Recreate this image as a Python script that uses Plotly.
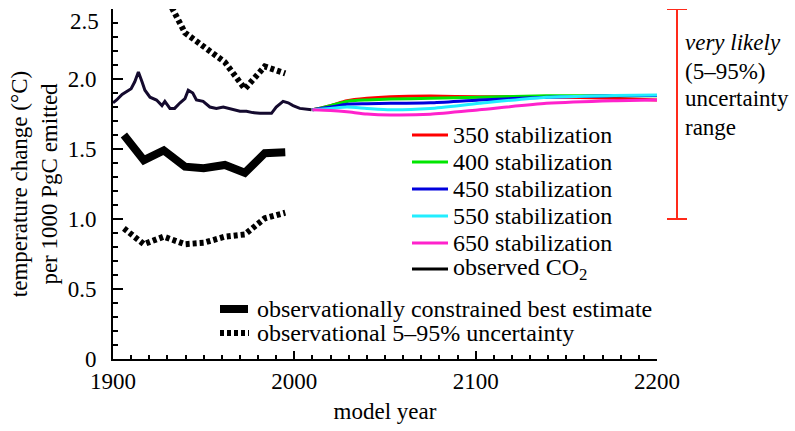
import plotly.graph_objects as go

# ---------------- data ----------------
obs_years = [1900, 1902, 1905, 1907.5, 1910, 1912, 1914, 1916, 1917.6, 1920.4, 1924, 1927, 1928.6,
             1931.4, 1934, 1937, 1939.7, 1941.5, 1944, 1946, 1949.7, 1953.4, 1957, 1960.8, 1963.5,
             1966, 1970, 1973.6, 1977, 1981, 1984.7, 1987.4, 1990, 1993.8, 1996.6, 1999.3, 2003, 2009.5]
obs_values = [1.83, 1.85, 1.89, 1.91, 1.93, 1.98, 2.05, 1.98, 1.92, 1.87, 1.85, 1.81, 1.84,
              1.79, 1.79, 1.83, 1.86, 1.92, 1.90, 1.85, 1.84, 1.80, 1.79, 1.80, 1.79,
              1.78, 1.77, 1.77, 1.76, 1.755, 1.755, 1.755, 1.80, 1.84, 1.83, 1.81, 1.79, 1.78]

stab_years = [2010, 2020, 2029, 2040, 2053, 2075, 2102, 2139, 2176, 2200]
stab_350 = [1.78, 1.81, 1.845, 1.862, 1.873, 1.878, 1.873, 1.873, 1.862, 1.85]
stab_400 = [1.78, 1.81, 1.84, 1.85, 1.857, 1.862, 1.869, 1.88, 1.88, 1.88]
stab_450 = [1.78, 1.80, 1.82, 1.823, 1.826, 1.83, 1.85, 1.87, 1.88, 1.882]
stab_550 = [1.78, 1.79, 1.80, 1.79, 1.78, 1.79, 1.826, 1.87, 1.882, 1.886]
stab_650 = [1.78, 1.775, 1.766, 1.75, 1.743, 1.748, 1.78, 1.826, 1.845, 1.85]

est_years = [1906, 1917, 1928, 1939.7, 1950, 1961.7, 1972.7, 1983.7, 1995]
best_estimate = [1.60, 1.42, 1.49, 1.374, 1.362, 1.386, 1.33, 1.47, 1.476]
upper_95 = [3.0, 2.8, 2.62, 2.33, 2.23, 2.12, 1.93, 2.09, 2.04]
lower_5 = [0.933, 0.82, 0.874, 0.82, 0.83, 0.874, 0.89, 1.005, 1.045]

uncertainty_range = [1.0, 2.5]

stab_labels = ["350 stabilization", "400 stabilization", "450 stabilization",
               "550 stabilization", "650 stabilization"]
stab_series = [stab_350, stab_400, stab_450, stab_550, stab_650]
stab_colors = ["#ff0000", "#00e600", "#0000dd", "#22eeff", "#ff22cc"]
obs_label = "observed CO<sub>2</sub>"
obs_color = "#140a2e"
best_label = "observationally constrained best estimate"
unc_label = "observational 5–95% uncertainty"
range_lines = ["<i>very likely</i>", "(5–95%)", "uncertainty", "range"]
ytick_vals = [0, 0.5, 1.0, 1.5, 2.0]
ytick_text = ["0", "0.5", "1.0", "1.5", "2.0"]

FONT = "Liberation Serif, Times New Roman, serif"
FS = 23      # tick labels / axis titles
FS_LEG = 24  # legend texts

# plot-area geometry (pixels) used for placing legend/annotation decorations
L, R, T, B = 113, 657, 9, 359
W, H = 795, 431


def px(x):
    return (x - L) / (R - L)


def py(y):
    return (B - y) / (B - T)


fig = go.Figure()

for lab, vals, col in zip(stab_labels, stab_series, stab_colors):
    fig.add_trace(go.Scatter(x=stab_years, y=vals, mode="lines", name=lab, showlegend=False,
                             line=dict(color=col, width=3, shape="spline", smoothing=0.6)))

fig.add_trace(go.Scatter(x=obs_years, y=obs_values, mode="lines", name=obs_label, showlegend=False,
                         line=dict(color=obs_color, width=3)))

fig.add_trace(go.Scatter(x=est_years, y=best_estimate, mode="lines", name=best_label,
                         showlegend=False, line=dict(color="black", width=8)))
fig.add_trace(go.Scatter(x=est_years, y=upper_95, mode="lines", name=unc_label, showlegend=False,
                         line=dict(color="black", width=6, dash="4px,3px")))
fig.add_trace(go.Scatter(x=est_years, y=lower_5, mode="lines", name=unc_label, showlegend=False,
                         line=dict(color="black", width=6, dash="4px,3px")))

# ---------- legend 1 (drawn manually for exact spacing) ----------
leg1_rows = [135, 162, 189, 216, 243, 269]
leg1_items = list(zip(stab_labels, stab_colors)) + [(obs_label, "black")]
for (lab, col), yy in zip(leg1_items, leg1_rows):
    fig.add_shape(type="line", xref="paper", yref="paper", x0=px(412), x1=px(448),
                  y0=py(yy), y1=py(yy), line=dict(color=col, width=3))
    fig.add_annotation(xref="paper", yref="paper", x=px(451), y=py(yy), xanchor="left",
                       yanchor="middle", showarrow=False, text=lab,
                       font=dict(family=FONT, size=FS_LEG, color="black"))

# ---------- legend 2 ----------
leg2_rows = [309, 333]
fig.add_shape(type="line", xref="paper", yref="paper", x0=px(220), x1=px(248),
              y0=py(leg2_rows[0]), y1=py(leg2_rows[0]), line=dict(color="black", width=8))
fig.add_shape(type="line", xref="paper", yref="paper", x0=px(220), x1=px(249),
              y0=py(leg2_rows[1]), y1=py(leg2_rows[1]),
              line=dict(color="black", width=6, dash="4px,3px"))
for lab, yy in zip([best_label, unc_label], leg2_rows):
    fig.add_annotation(xref="paper", yref="paper", x=px(255), y=py(yy), xanchor="left",
                       yanchor="middle", showarrow=False, text=lab,
                       font=dict(family=FONT, size=FS_LEG, color="black"))

# ---------- uncertainty bar to the right of the plot ----------
bar_x = px(677)
red = "#ff2a1a"
fig.add_shape(type="line", xref="paper", yref="y", x0=bar_x, x1=bar_x,
              y0=uncertainty_range[0], y1=uncertainty_range[1], line=dict(color=red, width=2))
for yv in uncertainty_range:
    fig.add_shape(type="line", xref="paper", yref="y", xsizemode="pixel", xanchor=bar_x,
                  x0=-10, x1=10, y0=yv, y1=yv, line=dict(color=red, width=2))

for txt, yy in zip(range_lines, [42, 71, 99, 127]):
    fig.add_annotation(xref="paper", yref="paper", x=px(683), y=py(yy), xanchor="left",
                       yanchor="middle", showarrow=False, text=txt,
                       font=dict(family=FONT, size=FS, color="black"))

# top tick label placed below the axis end
fig.add_annotation(xref="paper", yref="y", x=0, xshift=-12, y=2.5, yshift=2, xanchor="right",
                   yanchor="top", showarrow=False, text="2.5",
                   font=dict(family=FONT, size=FS, color="black"))

fig.update_layout(
    width=W, height=H,
    margin=dict(l=L, r=W - R, t=T, b=H - B),
    plot_bgcolor="white", paper_bgcolor="white",
    font=dict(family=FONT, size=FS, color="black"),
    showlegend=False,
    xaxis=dict(range=[1900, 2200], tickvals=[1900, 2000, 2100, 2200], showgrid=False,
               zeroline=False, showline=True, linecolor="black", linewidth=2,
               ticks="inside", ticklen=8, tickwidth=1.5, tickcolor="black",
               minor=dict(dtick=10, tick0=1900, ticks="inside", ticklen=4, tickwidth=1.5,
                          tickcolor="black", showgrid=False),
               title=dict(text="model year", standoff=10,
                          font=dict(family=FONT, size=FS)),
               tickfont=dict(family=FONT, size=FS)),
    yaxis=dict(range=[0, 2.5], tickvals=ytick_vals, ticktext=ytick_text, showgrid=False,
               zeroline=False, showline=True, linecolor="black", linewidth=2,
               ticks="inside", ticklen=10, tickwidth=1.5, tickcolor="black",
               ticklabelstandoff=10,
               minor=dict(dtick=0.1, tick0=0, ticks="inside", ticklen=5, tickwidth=1.5,
                          tickcolor="black", showgrid=False),
               title=dict(text="temperature change (°C)<br>per 1000 PgC emitted", standoff=4,
                          font=dict(family=FONT, size=FS)),
               tickfont=dict(family=FONT, size=FS)),
)

fig.write_html("out.html", config={"displayModeBar": False},
               post_script="document.body.style.margin='0px';document.body.style.overflow='hidden';")
